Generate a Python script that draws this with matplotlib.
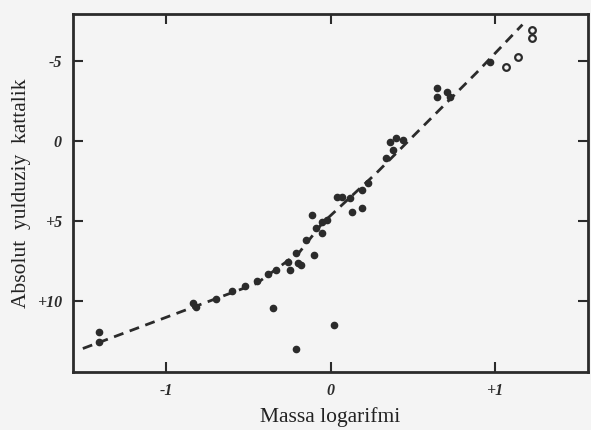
import numpy as np
import matplotlib.pyplot as plt

# log mass vs absolute magnitude
log_mass = [-1.41, -1.41, -0.84, -0.82, -0.70, -0.60, -0.52, -0.45, -0.38, -0.33,
            -0.35, -0.26, -0.25, -0.21, -0.20, -0.21, 0.02, -0.18, -0.15, -0.10,
            -0.09, -0.05, -0.05, -0.11, -0.02, 0.04, 0.07, 0.12, 0.13, 0.19,
            0.19, 0.23, 0.36, 0.38, 0.34, 0.40, 0.44, 0.65, 0.65, 0.71,
            0.73, 0.97]
abs_mag = [11.94, 12.56, 10.13, 10.38, 9.88, 9.38, 9.06, 8.75, 8.31, 8.06,
           10.44, 7.56, 8.06, 7.00, 7.63, 12.94, 11.50, 7.75, 6.19, 7.13,
           5.44, 5.75, 5.06, 4.63, 4.94, 3.50, 3.50, 3.56, 4.44, 4.19,
           3.06, 2.63, 0.06, 0.56, 1.06, -0.19, -0.06, -3.31, -2.75, -3.06,
           -2.75, -4.94]

# open-circle stars at the bright end
open_mass = [1.07, 1.14, 1.23, 1.23]
open_mag = [-4.63, -5.25, -6.94, -6.44]

# dashed mean relation
curve_mass = [-1.51, -0.45, -0.19, -0.05, 0.28, 0.89, 1.17]
curve_mag = [12.94, 8.88, 6.94, 5.13, 2.0, -4.25, -7.25]

xticks = [-1, 0, 1]
xtick_labels = ['-1', '0', '+1']
yticks = [-5, 0, 5, 10]
ytick_labels = ['-5', '0', '+5', '+10']

ink = '#2b2b2b'
bg = '#f4f4f4'

fig = plt.figure(figsize=(5.91, 4.30), dpi=100, facecolor=bg)
ax = fig.add_axes([0.1235, 0.135, 0.8715, 0.832])
ax.set_facecolor(bg)

ax.plot(curve_mass, curve_mag, linestyle=(0, (3.6, 2.4)), color=ink, lw=2.0)
ax.plot(log_mass, abs_mag, 'o', color=ink, ms=4.5, mec=ink)
ax.plot(open_mass, open_mag, 'o', mfc='none', mec=ink, ms=4.8, mew=1.6)

ax.set_xlim(-1.57, 1.57)
ax.set_ylim(14.4, -7.9)

ax.set_xticks(xticks)
ax.set_xticklabels(xtick_labels)
ax.set_yticks(yticks)
ax.set_yticklabels(ytick_labels)
ax.tick_params(direction='in', top=True, right=True, length=7, width=1.5,
               color=ink, labelcolor=ink, pad=8)
for lab in ax.get_xticklabels() + ax.get_yticklabels():
    lab.set_family('Liberation Serif')
    lab.set_style('italic')
    lab.set_weight('bold')
    lab.set_fontsize(11.5)

for sp in ax.spines.values():
    sp.set_linewidth(2.0)
    sp.set_color(ink)

ax.set_xlabel('Massa logarifmi', family='Liberation Serif', fontsize=15.5,
              color='#222222', labelpad=6)
ax.set_ylabel('Absolut  yulduziy  kattalik', family='Liberation Serif',
              fontsize=15.5, color='#222222', labelpad=4)

fig.savefig('out.png', dpi=100, facecolor=bg)
